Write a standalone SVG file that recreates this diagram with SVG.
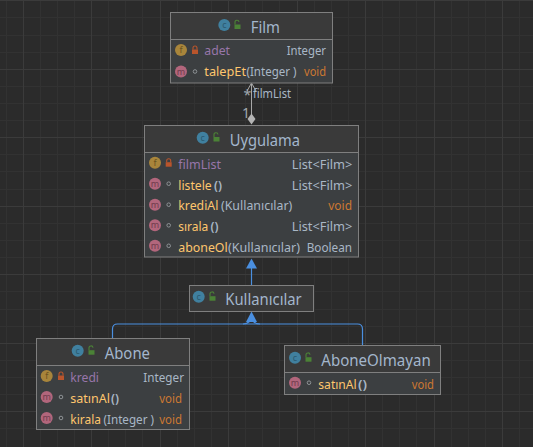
<svg xmlns="http://www.w3.org/2000/svg" width="533" height="447" viewBox="0 0 533 447">
<style>
text{font-family:"Noto Sans","Open Sans","DejaVu Sans",sans-serif;font-size:12.8px}
.box{fill:#3c3f41;stroke:#7f7f7f;stroke-width:1}
.hd{fill:#3a3a3a}
.dv{stroke:#7f7f7f;stroke-width:1;fill:none}
.title{font-size:16.500px;fill:#a3b6cc}
.fld{fill:#9876aa}
.mth{fill:#ffc66d}
.typ{fill:#a9b7c6}
.par{fill:#a9b7c6;font-weight:600}
.ora{fill:#cc7832}
.lbl{fill:#a9b7c6;font-size:12px}
.mark{fill:#a0a8ae;font-size:14px}
.ic{font-size:9px;text-anchor:middle}
.ci{fill:#40809f}.cit{fill:#2b5a70}
.fi{fill:#a8853b}.fit{fill:#6b5320}
.mi{fill:#b2667c}.mit{fill:#703c4c}
.dot{fill:none;stroke:#8d9295;stroke-width:1}
.mn{stroke:#323232;stroke-width:1;fill:none}
.mj{stroke:#3b3b3b;stroke-width:1;fill:none}
.blue{stroke:#4a8fe0;stroke-width:1.2;fill:none}
.tri{fill:#4a8fe0}
.gr{stroke:#a8a8a8;stroke-width:1;fill:none}
</style>
<defs>
<g id="lo"><rect x="-2.500" y="-.5" width="6" height="4.500" fill="#4b8236"/><path d="M-2-.5v-2a2 2 0 0 1 4-.5" fill="none" stroke="#4b8236" stroke-width="1.100"/></g>
<g id="lc"><rect x="-3" y="-.5" width="6" height="4.500" fill="#b9552c"/><path d="M-2-.5v-1.500a2 2 0 0 1 4 0v1.500" fill="none" stroke="#b9552c" stroke-width="1.100"/></g>
</defs>
<rect width="533" height="447" fill="#2b2b2b"/>
<path class="mn" d="M6.500 0V447M40.500 0V447M57.500 0V447M74.500 0V447M108.500 0V447M125.500 0V447M142.500 0V447M177.500 0V447M194.500 0V447M211.500 0V447M245.500 0V447M262.500 0V447M279.500 0V447M314.500 0V447M331.500 0V447M348.500 0V447M382.500 0V447M399.500 0V447M416.500 0V447M451.500 0V447M468.500 0V447M485.500 0V447M519.500 0V447M0 17.500H533M0 35.500H533M0 52.500H533M0 86.500H533M0 103.500H533M0 120.500H533M0 154.500H533M0 171.500H533M0 189.500H533M0 223.500H533M0 240.500H533M0 257.500H533M0 291.500H533M0 309.500H533M0 326.500H533M0 360.500H533M0 377.500H533M0 394.500H533M0 428.500H533"/>
<path class="mj" d="M23.500 0V447M91.500 0V447M160.500 0V447M228.500 0V447M297.500 0V447M365.500 0V447M434.500 0V447M502.500 0V447M0 .5H533M0 69.500H533M0 137.500H533M0 206.500H533M0 274.500H533M0 343.500H533M0 411.500H533"/>

<g id="connectors">
<path class="gr" d="M251.500 84V118M247 91L251.500 83L256 91"/>
<path d="M251.500 113.500L255.500 119L251.500 124.500L247.500 119Z" fill="#b4b4b4"/>
<text class="mark" x="243.500" y="100">*</text>
<text class="lbl" x="253" y="98" textLength="38" lengthAdjust="spacingAndGlyphs">filmList</text>
<text class="mark" x="242" y="118">1</text>
<path class="blue" d="M251.500 268V285"/>
<path class="tri" d="M251.500 258.500L257 268.500H246Z"/>
<path class="blue" d="M112.500 338V329Q112.500 324 117.500 324H357.500Q362.500 324 362.500 329V345"/>
<path class="blue" d="M243 324Q247 324 249.500 321.500M260 324Q256 324 253.500 321.500"/>
<path class="tri" d="M251.500 311.500L257 322H246Z"/>
</g>

<g id="film">
<rect class="box" x="170.500" y="12.500" width="162" height="70.500"/>
<rect class="hd" x="171" y="13" width="161" height="26.500"/>
<path class="dv" d="M171 39.500H332"/>
<circle class="ci" cx="224.300" cy="25" r="6"/><text class="ic cit" x="224.300" y="28">c</text>
<use href="#lo" x="237" y="25"/>
<text class="title" x="250.700" y="33" textLength="29.300" lengthAdjust="spacingAndGlyphs">Film</text>
<circle class="fi" cx="181" cy="50" r="6"/><text class="ic fit" x="181" y="53">f</text>
<use href="#lc" x="195" y="50"/>
<text class="fld" x="204.300" y="55" textLength="25.700" lengthAdjust="spacingAndGlyphs">adet</text>
<text class="typ" x="286.700" y="55" textLength="39.300" lengthAdjust="spacingAndGlyphs">Integer</text>
<circle class="mi" cx="181" cy="71.500" r="6"/><text class="ic mit" x="181" y="74.500">m</text>
<circle class="dot" cx="195" cy="71.500" r="1.800"/>
<text class="mth" x="204.300" y="76" textLength="41.700" lengthAdjust="spacingAndGlyphs">talepEt</text>
<text class="typ" x="246.500" y="76" textLength="50" lengthAdjust="spacingAndGlyphs">(Integer )</text>
<text class="ora" x="304" y="76" textLength="22" lengthAdjust="spacingAndGlyphs">void</text>
</g>

<g id="uygulama">
<rect class="box" x="144.500" y="125.500" width="214" height="131.500"/>
<rect class="hd" x="145" y="126" width="213" height="26.500"/>
<path class="dv" d="M145 152.500H358"/>
<circle class="ci" cx="202.700" cy="137.700" r="6"/><text class="ic cit" x="202.700" y="140.700">c</text>
<use href="#lo" x="216" y="137.500"/>
<text class="title" x="229.700" y="145.500" textLength="70.300" lengthAdjust="spacingAndGlyphs">Uygulama</text>
<circle class="fi" cx="155" cy="162.700" r="6"/><text class="ic fit" x="155" y="165.700">f</text>
<use href="#lc" x="168.700" y="162.700"/>
<text class="fld" x="178.300" y="168.500" textLength="42.700" lengthAdjust="spacingAndGlyphs">filmList</text>
<text class="typ" x="291.700" y="168.500" textLength="60.600" lengthAdjust="spacingAndGlyphs">List&lt;Film&gt;</text>
<circle class="mi" cx="155" cy="183.700" r="6"/><text class="ic mit" x="155" y="186.700">m</text>
<circle class="dot" cx="168.700" cy="183.700" r="1.800"/>
<text class="mth" x="178.300" y="189.500" textLength="33.400" lengthAdjust="spacingAndGlyphs">listele</text>
<text class="par" x="214" y="189.500" textLength="8" lengthAdjust="spacingAndGlyphs">()</text>
<text class="typ" x="291.700" y="189.500" textLength="60.600" lengthAdjust="spacingAndGlyphs">List&lt;Film&gt;</text>
<circle class="mi" cx="155" cy="204.700" r="6"/><text class="ic mit" x="155" y="207.700">m</text>
<circle class="dot" cx="168.700" cy="204.700" r="1.800"/>
<text class="mth" x="178.300" y="210" textLength="40" lengthAdjust="spacingAndGlyphs">krediAl</text>
<text class="typ" x="221" y="210" textLength="71.300" lengthAdjust="spacingAndGlyphs">(Kullanıcılar)</text>
<text class="ora" x="328.300" y="210" textLength="23.700" lengthAdjust="spacingAndGlyphs">void</text>
<circle class="mi" cx="155" cy="225.300" r="6"/><text class="ic mit" x="155" y="228.300">m</text>
<circle class="dot" cx="168.700" cy="225.300" r="1.800"/>
<text class="mth" x="178.300" y="230.500" textLength="30" lengthAdjust="spacingAndGlyphs">sırala</text>
<text class="par" x="210.500" y="230.500" textLength="8" lengthAdjust="spacingAndGlyphs">()</text>
<text class="typ" x="291.700" y="230.500" textLength="60.600" lengthAdjust="spacingAndGlyphs">List&lt;Film&gt;</text>
<circle class="mi" cx="155" cy="245.800" r="6"/><text class="ic mit" x="155" y="248.800">m</text>
<circle class="dot" cx="168.700" cy="245.800" r="1.800"/>
<text class="mth" x="178.300" y="251.500" textLength="49.400" lengthAdjust="spacingAndGlyphs">aboneOl</text>
<text class="typ" x="228" y="251.500" textLength="72" lengthAdjust="spacingAndGlyphs">(Kullanıcılar)</text>
<text class="typ" x="306.700" y="251.500" textLength="45.300" lengthAdjust="spacingAndGlyphs">Boolean</text>
</g>

<g id="kullanicilar">
<rect class="box" x="189.500" y="285.500" width="124" height="26" style="fill:#3a3a3a"/>
<circle class="ci" cx="198.700" cy="296.700" r="6"/><text class="ic cit" x="198.700" y="299.700">c</text>
<use href="#lo" x="212" y="296.700"/>
<text class="title" x="225.300" y="304.500" textLength="76.400" lengthAdjust="spacingAndGlyphs">Kullanıcılar</text>
</g>

<g id="abone">
<rect class="box" x="36.500" y="338.500" width="153" height="91"/>
<rect class="hd" x="37" y="339" width="152" height="26.500"/>
<path class="dv" d="M37 365.500H189"/>
<circle class="ci" cx="77.700" cy="350.700" r="6"/><text class="ic cit" x="77.700" y="353.700">c</text>
<use href="#lo" x="91" y="350.700"/>
<text class="title" x="104.700" y="358.500" textLength="45.300" lengthAdjust="spacingAndGlyphs">Abone</text>
<circle class="fi" cx="46.700" cy="376" r="6"/><text class="ic fit" x="46.700" y="379">f</text>
<use href="#lc" x="61" y="376"/>
<text class="fld" x="70.300" y="381.500" textLength="28.700" lengthAdjust="spacingAndGlyphs">kredi</text>
<text class="typ" x="143.300" y="381.500" textLength="40.700" lengthAdjust="spacingAndGlyphs">Integer</text>
<circle class="mi" cx="46.700" cy="397" r="6"/><text class="ic mit" x="46.700" y="400">m</text>
<circle class="dot" cx="61" cy="397" r="1.800"/>
<text class="mth" x="70.300" y="402.500" textLength="39.700" lengthAdjust="spacingAndGlyphs">satınAl</text>
<text class="par" x="111" y="402.500" textLength="8" lengthAdjust="spacingAndGlyphs">()</text>
<text class="ora" x="159.300" y="402.500" textLength="22.700" lengthAdjust="spacingAndGlyphs">void</text>
<circle class="mi" cx="46.700" cy="418" r="6"/><text class="ic mit" x="46.700" y="421">m</text>
<circle class="dot" cx="61" cy="418" r="1.800"/>
<text class="mth" x="70.300" y="423.500" textLength="30.700" lengthAdjust="spacingAndGlyphs">kirala</text>
<text class="typ" x="103.500" y="423.500" textLength="50.500" lengthAdjust="spacingAndGlyphs">(Integer )</text>
<text class="ora" x="159.300" y="423.500" textLength="22.700" lengthAdjust="spacingAndGlyphs">void</text>
</g>

<g id="aboneolmayan">
<rect class="box" x="284.500" y="345.500" width="156" height="49"/>
<rect class="hd" x="285" y="346" width="155" height="26.500"/>
<path class="dv" d="M285 372.500H440"/>
<circle class="ci" cx="295" cy="357.700" r="6"/><text class="ic cit" x="295" y="360.700">c</text>
<use href="#lo" x="308" y="357.700"/>
<text class="title" x="321.300" y="365.500" textLength="109.400" lengthAdjust="spacingAndGlyphs">AboneOlmayan</text>
<circle class="mi" cx="295" cy="382.700" r="6"/><text class="ic mit" x="295" y="385.700">m</text>
<circle class="dot" cx="309" cy="382.700" r="1.800"/>
<text class="mth" x="318.300" y="388.500" textLength="38.400" lengthAdjust="spacingAndGlyphs">satınAl</text>
<text class="par" x="358" y="388.500" textLength="9" lengthAdjust="spacingAndGlyphs">()</text>
<text class="ora" x="411.700" y="388.500" textLength="22.300" lengthAdjust="spacingAndGlyphs">void</text>
</g>
</svg>
